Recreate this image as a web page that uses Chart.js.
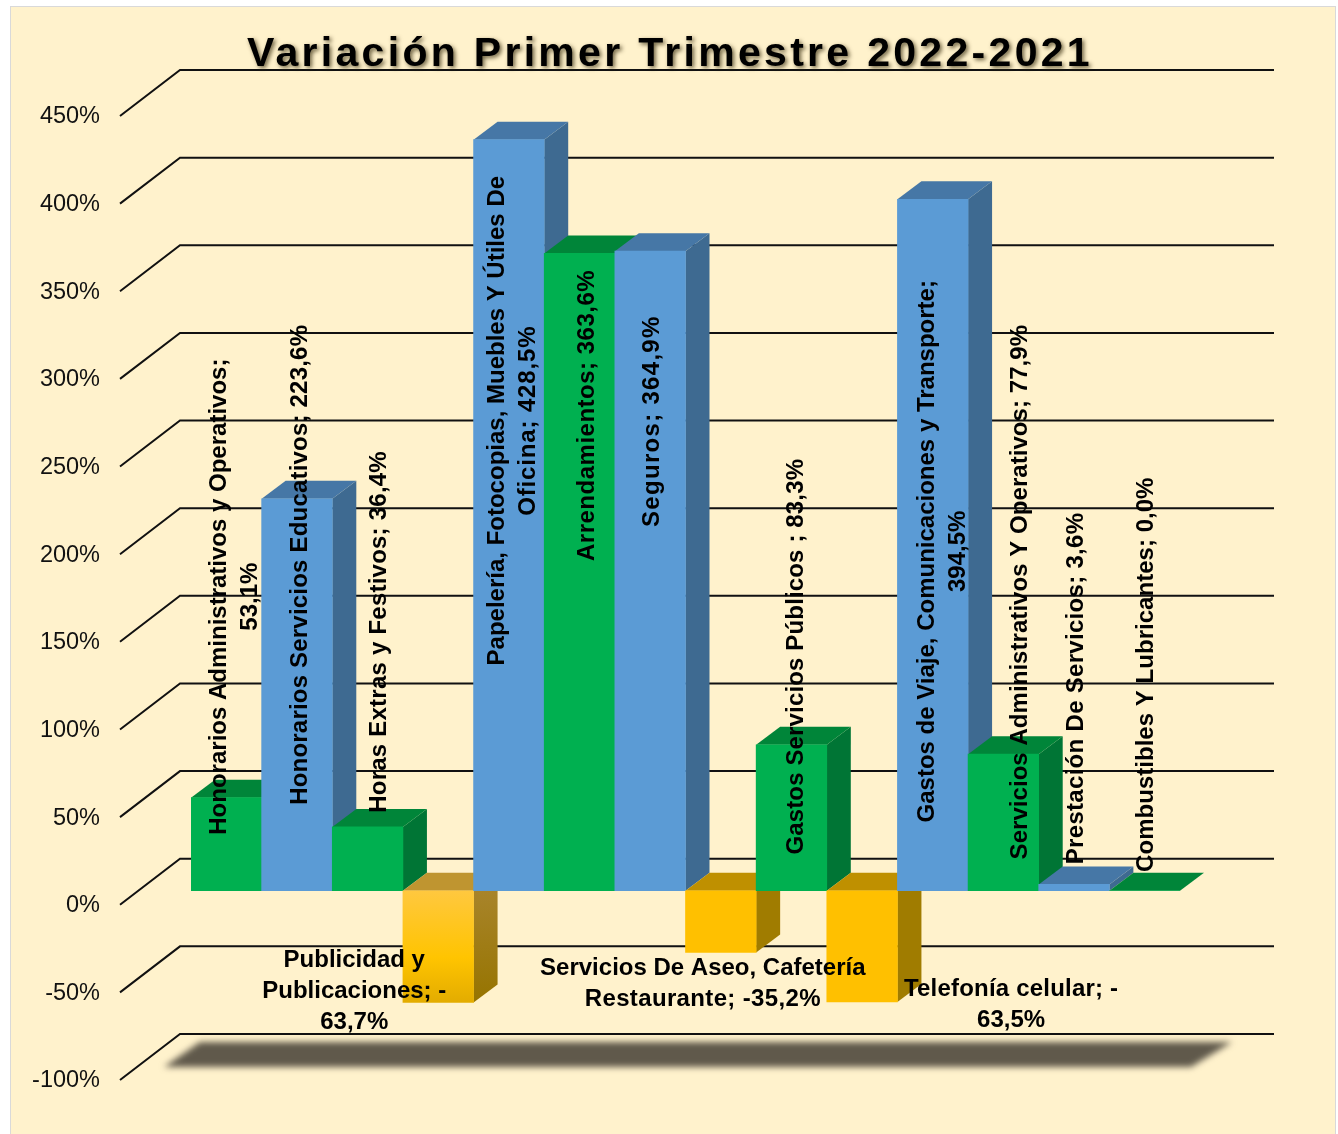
<!DOCTYPE html>
<html lang="es">
<head>
<meta charset="utf-8">
<title>Variación Primer Trimestre 2022-2021</title>
<style>
  html, body { margin: 0; padding: 0; background: #fff; }
  #wrap { position: relative; width: 1338px; height: 1134px; overflow: hidden; }
  #panel { position: absolute; left: 10px; top: 6px; right: 2px; bottom: -4px; background: #FFF2CC; border: 1px solid #D9D9D9; }
  #chart { position: absolute; left: 0; top: 0; }
</style>
</head>
<body>
<div id="wrap">
  <div id="panel"></div>
  <canvas id="chart" width="1338" height="1134"></canvas>
</div>
<script src="https://cdn.jsdelivr.net/npm/chart.js@4/dist/chart.umd.min.js"></script>
<script>
const chartTitle = 'Variación Primer Trimestre 2022-2021';

const categories = [
  'Honorarios Administrativos y Operativos',
  'Honorarios Servicios Educativos',
  'Horas Extras y Festivos',
  'Publicidad y Publicaciones',
  'Papelería, Fotocopias, Muebles Y Útiles De Oficina',
  'Arrendamientos',
  'Seguros',
  'Servicios De Aseo, Cafetería Restaurante',
  'Gastos Servicios Públicos',
  'Telefonía celular',
  'Gastos de Viaje, Comunicaciones y Transporte',
  'Servicios Administrativos Y Operativos',
  'Prestación De Servicios',
  'Combustibles Y Lubricantes'
];
const values = [53.1, 223.6, 36.4, -63.7, 428.5, 363.6, 364.9, -35.2, 83.3, -63.5, 394.5, 77.9, 3.6, 0.0];
const barGroups = ['green', 'blue', 'green', 'yellow', 'blue', 'green', 'blue', 'yellow', 'green', 'yellow', 'blue', 'green', 'blue', 'green'];

// Etiquetas tal como aparecen partidas en el original
const labelLines = [
  ['Honorarios Administrativos y Operativos;', '53,1%'],
  ['Honorarios Servicios Educativos; 223,6%'],
  ['Horas Extras y Festivos; 36,4%'],
  ['Publicidad y', 'Publicaciones; -', '63,7%'],
  ['Papelería, Fotocopias, Muebles Y Útiles De', 'Oficina; 428,5%'],
  ['Arrendamientos; 363,6%'],
  ['Seguros; 364,9%'],
  ['Servicios De Aseo, Cafetería', 'Restaurante; -35,2%'],
  ['Gastos Servicios Públicos ; 83,3%'],
  ['Telefonía celular; -', '63,5%'],
  ['Gastos de Viaje, Comunicaciones y Transporte;', '394,5%'],
  ['Servicios Administrativos Y Operativos; 77,9%'],
  ['Prestación De Servicios; 3,6%'],
  ['Combustibles Y Lubricantes; 0,0%']
];
const labelRotated = [true, true, true, false, true, true, true, false, true, false, true, true, true, true];

// Desplazamiento de cada etiqueta respecto al extremo de su barra
const labelShiftX = [9, 3, 12, -84, 4, 8, 2, -18, 5, 149, 10, 17, 2, 2];
const labelShiftY = [-201, 66, -195, -11, 281, 162, 170, 31, -88, 3, 352, -162, -196, -216];
// Espaciado de letras por linea (px)
const labelTracking = [
  [0, 0], [0.2], [0.23], [0, 0, 0], [0, 0.85], [0.5], [1.3], [0, 0.35], [0.15], [0.2, 0], [0, 0], [0.05], [0.3], [0.03]
];

const palette = {
  blue:   { front: '#5B9BD5', top: '#4677A6', side: '#3E6A91' },
  green:  { front: '#00B050', top: '#008539', side: '#007535' },
  yellow: { front: '#FFC000', top: '#BF9000', side: '#A07C00' }
};

const barDepth = { x: 24, y: 18 };
const gridFront = { x: 71, y: 14 };   // extremo delantero de la rejilla
const gridBack = { x: 11, y: 32 };    // pared del fondo
const gridRightOverhang = 94;

function poly(ctx, pts, fill) {
  ctx.fillStyle = fill;
  ctx.beginPath();
  pts.forEach((p, i) => i ? ctx.lineTo(p[0], p[1]) : ctx.moveTo(p[0], p[1]));
  ctx.closePath();
  ctx.fill();
}

const scene3d = {
  id: 'scene3d',
  beforeDatasetsDraw(chart) {
    const { ctx, chartArea, scales: { x, y } } = chart;
    const half = x.getPixelForValue(1) - x.getPixelForValue(0);
    ctx.save();

    // rejilla: tramo inclinado y linea del fondo
    ctx.strokeStyle = '#111';
    ctx.lineWidth = 2;
    y.ticks.forEach(t => {
      const py = y.getPixelForValue(t.value);
      ctx.beginPath();
      ctx.moveTo(chartArea.left - gridFront.x, py + gridFront.y);
      ctx.lineTo(chartArea.left - gridBack.x, py - gridBack.y);
      ctx.lineTo(chartArea.right + gridRightOverhang, py - gridBack.y);
      ctx.stroke();
    });

    // sombra del suelo
    const floor = y.getPixelForValue(-100);
    ctx.filter = 'blur(3px)';
    poly(ctx, [
      [chartArea.left + 9, floor - 24],
      [chartArea.right + 52, floor - 24],
      [chartArea.right + 11, floor + 1],
      [chartArea.left - 27, floor + 1]
    ], '#60594B');
    ctx.filter = 'none';

    // caras lateral y superior, de izquierda a derecha
    values.forEach((v, i) => {
      const c = palette[barGroups[i]];
      const left = x.getPixelForValue(i) - half / 2;
      const right = left + half;
      const zero = y.getPixelForValue(0);
      const end = y.getPixelForValue(v);
      const high = Math.min(zero, end);
      const low = Math.max(zero, end);
      const dx = barDepth.x, dy = barDepth.y;
      let side = c.side;
      if (i === 3) {
        side = ctx.createLinearGradient(0, zero, 0, end);
        side.addColorStop(0, '#A8842A');
        side.addColorStop(1, '#967400');
      }
      if (low > high) {
        poly(ctx, [[right, high], [right + dx, high - dy], [right + dx, low - dy], [right, low]], side);
      }
      poly(ctx, [[left, high], [left + dx, high - dy], [right + dx, high - dy], [right, high]], i === 3 ? '#BF9530' : c.top);
    });
    ctx.restore();
  },
  afterDatasetsDraw(chart) {
    const { ctx, scales: { x, y } } = chart;
    ctx.save();
    ctx.fillStyle = '#000';
    ctx.font = 'bold 24px "Liberation Sans", Arial, sans-serif';
    ctx.textAlign = 'center';
    ctx.textBaseline = 'middle';
    const lineGap = 31;
    values.forEach((v, i) => {
      const lines = labelLines[i];
      const cx = x.getPixelForValue(i) + labelShiftX[i];
      const cy = y.getPixelForValue(v) + labelShiftY[i];
      ctx.save();
      ctx.translate(cx, cy);
      if (labelRotated[i]) ctx.rotate(-Math.PI / 2);
      lines.forEach((line, k) => {
        ctx.letterSpacing = labelTracking[i][k] + 'px';
        ctx.fillText(line, 0, (k - (lines.length - 1) / 2) * lineGap);
      });
      ctx.restore();
    });

    // titulo con sombra
    ctx.font = 'bold 41px "Liberation Sans", Arial, sans-serif';
    ctx.letterSpacing = '3.3px';
    ctx.shadowColor = 'rgba(60,50,20,0.75)';
    ctx.shadowBlur = 4;
    ctx.shadowOffsetX = 2;
    ctx.shadowOffsetY = 2;
    ctx.fillText(chartTitle, 670, 55);
    ctx.restore();
  }
};

new Chart(document.getElementById('chart').getContext('2d'), {
  type: 'bar',
  data: {
    labels: categories,
    datasets: [{
      data: values,
      barPercentage: 1,
      categoryPercentage: 1,
      borderWidth: 0,
      backgroundColor(c) {
        if (c.dataIndex === 3) {
          const { ctx, scales: { y } } = c.chart;
          const g = ctx.createLinearGradient(0, y.getPixelForValue(0), 0, y.getPixelForValue(values[3]));
          g.addColorStop(0, '#FFC83F');
          g.addColorStop(0.6, '#FFC400');
          g.addColorStop(1, '#E3AC00');
          return g;
        }
        return palette[barGroups[c.dataIndex]].front;
      }
    }]
  },
  plugins: [scene3d],
  options: {
    responsive: false,
    animation: false,
    layout: { padding: { left: 0, top: 102, right: 158, bottom: 68 } },
    plugins: {
      legend: { display: false },
      title: { display: false },
      tooltip: { enabled: false }
    },
    scales: {
      x: { display: false },
      y: {
        min: -100,
        max: 450,
        afterFit(axis) {
          axis.width = 191;
          // el padding de ticks no debe encoger el area del grafico
          axis.paddingTop = 0;
          axis.paddingBottom = 0;
        },
        grid: { display: false, drawTicks: false },
        border: { display: false },
        ticks: {
          stepSize: 50,
          padding: 91,
          labelOffset: 15,
          color: '#111',
          font: { family: '"Liberation Sans", Arial, sans-serif', size: 23.5 },
          callback: v => v + '%'
        }
      }
    }
  }
});
</script>
</body>
</html>
